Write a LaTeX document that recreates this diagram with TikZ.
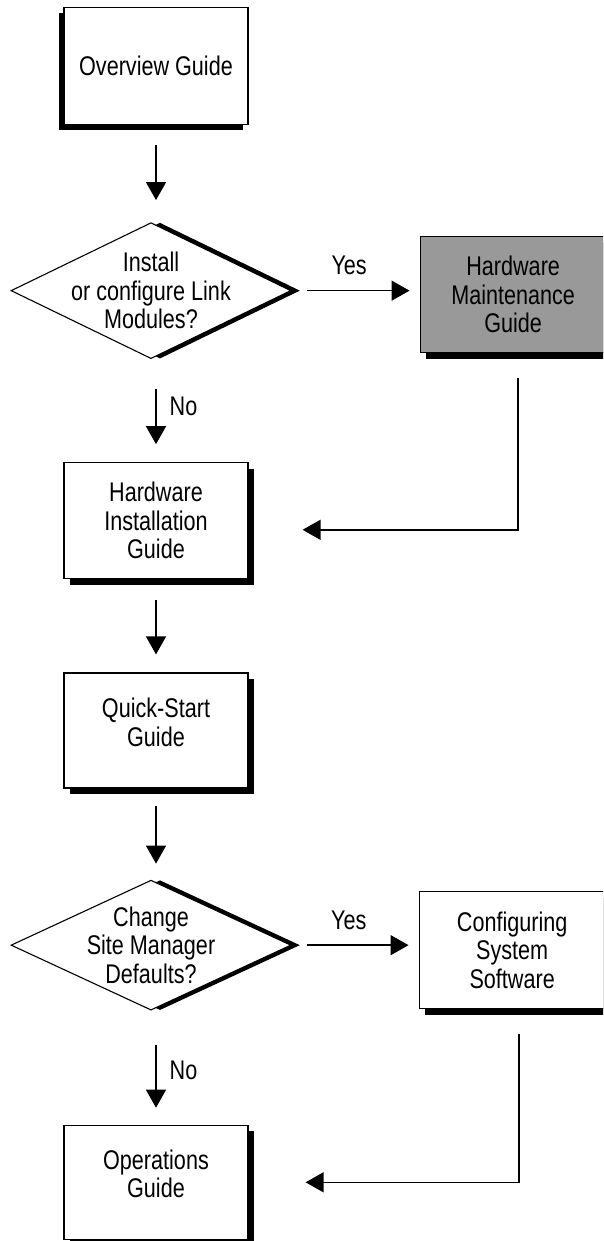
\documentclass[tikz,border=0pt]{standalone}
\usepackage{fontspec}
\setmainfont{Liberation Sans}[FakeStretch=0.8]
\usetikzlibrary{shapes.geometric,arrows.meta,positioning,shadows}
\newcommand{\guidefont}{\fontsize{27pt}{28.5pt}\selectfont}

\begin{document}
\begin{tikzpicture}[
    node distance=10mm,
    every node/.style={font=\guidefont},
    guidebox/.style={
      rectangle, draw, line width=1.2pt, fill=white,
      minimum width=184pt, minimum height=117pt,
      align=center, inner sep=2pt
    },
    guide/.style={
      guidebox,
      drop shadow={shadow xshift=6pt, shadow yshift=-6pt, fill=black, opacity=1}
    },
    guideleft/.style={
      guidebox,
      drop shadow={shadow xshift=-5pt, shadow yshift=-6pt, fill=black, opacity=1}
    },
    guidegray/.style={guide, fill=black!40, minimum width=186pt},
    decision/.style={
      diamond, draw, line width=1.1pt, fill=white,
      minimum width=280pt, minimum height=136pt, inner sep=0pt,
      drop shadow={shadow xshift=9pt, shadow yshift=0pt, fill=black, opacity=1}
    },
    qtext/.style={align=center, inner sep=0pt},
    arr/.style={-{Triangle[length=18pt, width=20pt]}, line width=1.4pt},
    lbl/.style={inner sep=0pt}
  ]
  \clip (0,0) rectangle (603pt,-1241pt);

  % Left column
  \node[guideleft] (overview) at (156pt,-66pt) {Overview Guide};
  \node[decision, below=97pt of overview, xshift=-5pt,
        label={[qtext]center:Install\\or configure Link\\Modules?}] (linkq) {};
  \node[guide, below=103pt of linkq, xshift=5pt, minimum height=116pt] (hwinst)
    {Hardware\\Installation\\Guide};
  \node[guide, below=93pt of hwinst, minimum height=115pt, text depth=17pt] (quick)
    {Quick-Start\\Guide};
  \node[decision, below=91pt of quick, xshift=-5pt, minimum height=130pt,
        label={[qtext]center:Change\\Site Manager\\Defaults?}] (siteq) {};
  \node[guide, below=114pt of siteq, xshift=5pt, minimum height=114pt, text depth=17pt] (ops)
    {Operations\\Guide};

  % Right column
  \node[guidegray, right=128pt of linkq, yshift=-4pt, minimum height=116pt] (hwmaint)
    {Hardware\\Maintenance\\Guide};
  \node[guide, right=127pt of siteq, yshift=-5pt, minimum width=186pt] (config)
    {Configuring\\System\\Software};

  % Return points
  \coordinate[right=54pt of hwinst, yshift=-9pt] (back1);
  \coordinate[right=57pt of ops] (back2);

  % Arrows
  \draw[arr, shorten <=20pt, shorten >=22pt] (overview.south) -- (overview.south |- linkq.north);
  \draw[arr, shorten <=15pt, shorten >=10pt] (linkq.east)
    -- node[lbl, above=15pt, pos=0.45] {Yes} (linkq.east -| hwmaint.west);
  \draw[arr, shorten <=30pt, shorten >=18pt] (linkq.south -| hwinst.north)
    -- node[lbl, right=13pt, pos=0.46] {No} (hwinst.north);
  \draw[arr, shorten <=21pt, shorten >=18pt] (hwinst) -- (quick);
  \draw[arr, shorten <=17pt, shorten >=16pt] (quick.south) -- (quick.south |- siteq.north);
  \draw[arr, shorten <=15pt, shorten >=10pt] (siteq.east)
    -- node[lbl, above=15pt, pos=0.45] {Yes} (siteq.east -| config.west);
  \draw[arr, shorten <=34pt, shorten >=17pt] (siteq.south -| ops.north)
    -- node[lbl, right=13pt, pos=0.52] {No} (ops.north);

  % Back to the main column
  \draw[arr, shorten <=25pt] ([xshift=5pt]hwmaint.south) |- (back1);
  \draw[arr, shorten <=25pt] ([xshift=7pt]config.south) |- (back2);

\end{tikzpicture}
\end{document}
